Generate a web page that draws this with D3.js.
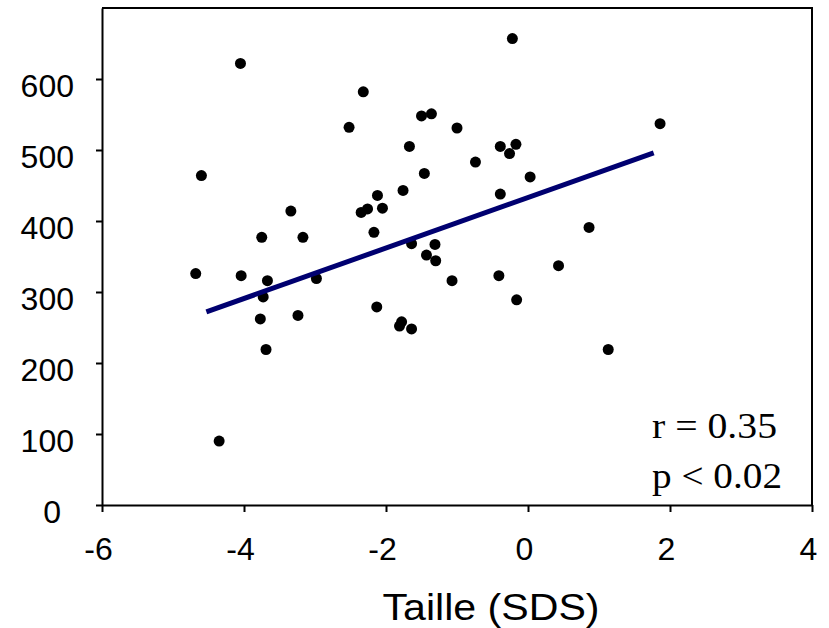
<!DOCTYPE html>
<html lang="fr">
<head>
  <meta charset="UTF-8">
  <title>Taille (SDS)</title>
  <style>
    html, body {
      margin: 0;
      background-color: #ffffff;
    }
    svg {
      display: block;
    }
    .tick line, .domain, .frame {
      stroke: #000;
      stroke-width: 2px;
    }
    .tick text {
      font-family: "Liberation Sans", Arial, sans-serif;
      font-size: 32px;
      fill: #000;
    }
  </style>
</head>
<body>
  <svg class="chart" width="829" height="628"></svg>

  <script src="https://cdnjs.cloudflare.com/ajax/libs/d3/7.8.5/d3.min.js"></script>
  <script>
    // values
    const taille = [-4.05, -0.22, -2.32, -2.52, -1.50, -1.36, -1.00, 1.86, -1.67, -0.39,
      -0.17, -0.26, -0.74, -1.46, 0.03, -4.60, -1.76, -0.39, -2.12, -2.26,
      -2.35, -2.05, -3.34, -2.17, 0.86, -3.75, -3.17, -1.64, -1.31, -1.43,
      -1.30, -4.68, -4.04, -3.67, -2.98, -1.07, -0.41, 0.43, -3.73, -0.16,
      -2.13, -3.77, -3.24, -1.78, -1.81, -1.64, -3.69, 1.13, -4.35];
    const mesure = [622, 657, 582, 532, 548, 551, 531, 537, 505, 505,
      508, 495, 483, 467, 462, 464, 443, 438, 436, 417,
      412, 418, 414, 384, 391, 377, 377, 368, 367, 352,
      344, 326, 323, 316, 319, 316, 323, 337, 293, 289,
      279, 262, 267, 258, 252, 248, 219, 219, 90];
    const fitX = [-4.53, 1.77];
    const fitY = [272, 496];
    const xTicks = [-6, -4, -2, 0, 2, 4];
    const yTicks = [0, 100, 200, 300, 400, 500, 600];
    const statLines = ['r = 0.35', 'p < 0.02'];

    const svg = d3.select('.chart');
    const x = d3.scaleLinear().domain([-6, 4]).range([102, 812]);
    const y = d3.scaleLinear().domain([0, 700]).range([505, 8]);

    // frame top / right
    svg.append('path')
      .attr('class', 'frame')
      .attr('fill', 'none')
      .attr('d', `M${x(-6)},${y(700)}H${x(4)}V${y(0)}`);

    const yAxis = svg.append('g')
      .attr('transform', `translate(${x(-6)},0)`)
      .call(d3.axisLeft(y).tickValues(yTicks).tickSize(6).tickSizeOuter(0).tickPadding(22));
    yAxis.selectAll('.tick text')
      .attr('dy', 17)
      .attr('dx', d => d === 0 ? -13 : 0);

    const xAxis = svg.append('g')
      .attr('transform', `translate(0,${y(0)})`)
      .call(d3.axisBottom(x).tickValues(xTicks).tickSize(7).tickSizeOuter(0)
        .tickFormat(d => String(d)));
    xAxis.selectAll('.tick text')
      .attr('y', 55)
      .attr('dy', 0)
      .attr('dx', -4);

    // points
    svg.append('g')
      .selectAll('circle')
      .data(taille.map((t, i) => ({ t, m: mesure[i] })))
      .join('circle')
      .attr('cx', d => x(d.t))
      .attr('cy', d => y(d.m))
      .attr('r', 5.5)
      .attr('fill', '#000');

    // regression line
    svg.append('path')
      .datum(fitX.map((v, i) => [v, fitY[i]]))
      .attr('fill', 'none')
      .attr('stroke', '#000070')
      .attr('stroke-width', 5)
      .attr('d', d3.line().x(d => x(d[0])).y(d => y(d[1])));

    // r / p
    svg.append('g')
      .selectAll('text')
      .data(statLines)
      .join('text')
      .attr('x', 652)
      .attr('y', (d, i) => 438 + i * 50)
      .attr('textLength', (d, i) => i ? 130 : 125)
      .attr('lengthAdjust', 'spacingAndGlyphs')
      .style('font-family', '"Liberation Serif", "Times New Roman", serif')
      .style('font-size', '36px')
      .text(d => d);

    svg.append('text')
      .attr('x', 491)
      .attr('y', 620)
      .attr('text-anchor', 'middle')
      .attr('textLength', 217)
      .attr('lengthAdjust', 'spacingAndGlyphs')
      .style('font-family', '"Liberation Sans", Arial, sans-serif')
      .style('font-size', '37px')
      .text('Taille (SDS)');
  </script>
</body>
</html>
